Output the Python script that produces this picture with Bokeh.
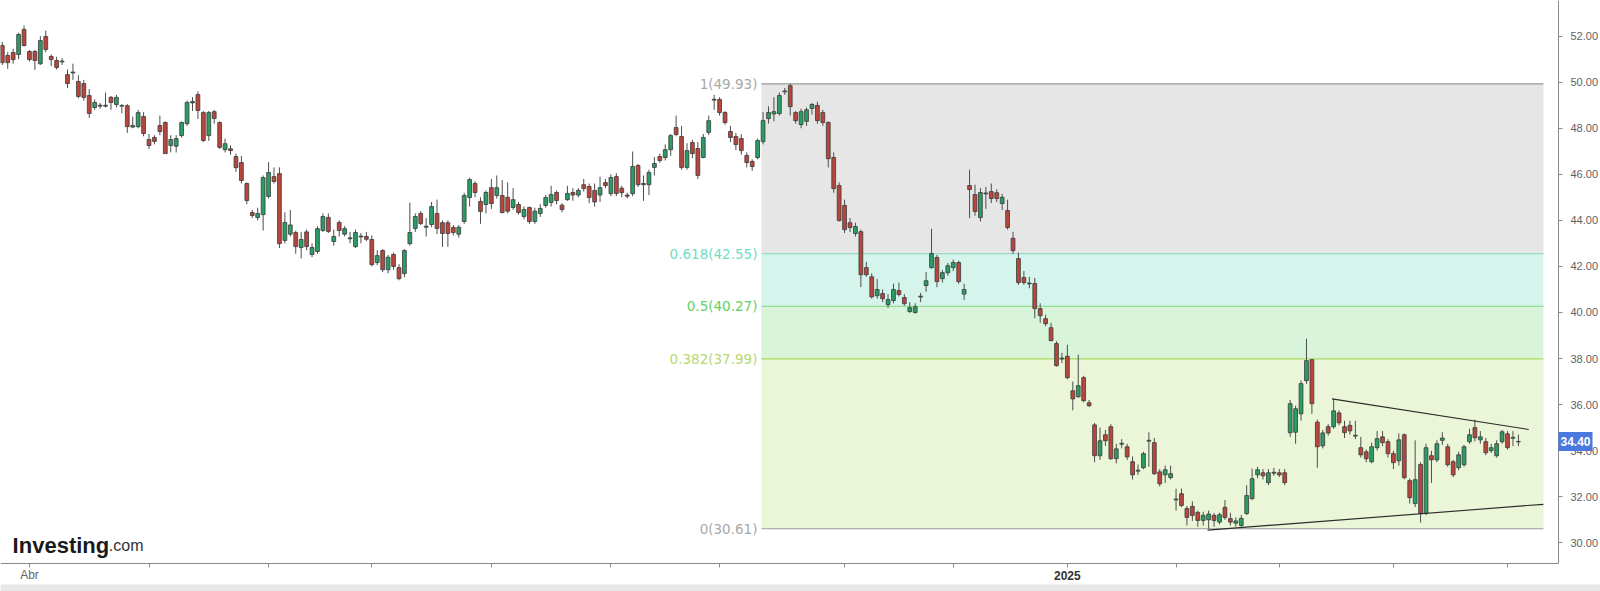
from bokeh.plotting import figure
from bokeh.models import Range1d, FixedTicker, Label, ColumnDataSource
from bokeh.embed import file_html
from bokeh.resources import INLINE
from bokeh.core.properties import value

# ---------------- data (daily candles, index 0 = 22 Mar 2024) ----------------
opens = [
    51.59, 51.16, 51.29, 51.20, 52.29, 51.33, 51.33, 50.80, 51.98, 51.12,
    50.94, 50.88, 50.33, 50.40, 50.03, 49.94, 49.42, 48.90, 49.00, 48.96,
    49.34, 49.03, 48.96, 48.98, 48.05, 48.07, 48.51, 47.51, 47.60, 48.12,
    48.25, 47.25, 47.22, 47.68, 48.20, 49.10, 49.46, 48.68, 47.68, 48.72,
    48.25, 47.07, 47.11, 46.77, 46.51, 45.60, 44.34, 44.12, 44.25, 45.04,
    45.90, 46.03, 43.13, 43.40, 43.47, 42.82, 43.50, 42.52, 42.65, 43.56,
    44.13, 43.08, 43.91, 43.40, 43.20, 42.86, 43.28, 43.30, 43.17, 42.17,
    42.69, 41.86, 42.52, 41.95, 41.69, 42.99, 43.65, 44.30, 43.70, 43.82,
    44.30, 43.90, 43.90, 43.69, 43.40, 43.95, 44.99, 45.60, 44.82, 44.69,
    45.42, 45.08, 45.08, 45.00, 44.56, 44.69, 44.17, 44.56, 43.95, 44.30,
    44.65, 44.78, 45.21, 44.66, 44.90, 45.21, 45.10, 45.55, 45.47, 45.30,
    45.10, 45.64, 45.16, 45.90, 45.40, 45.10, 45.16, 46.38, 45.60, 45.55,
    46.30, 46.77, 46.73, 47.07, 48.03, 47.64, 46.30, 47.38, 47.12, 46.73,
    47.82, 49.26, 49.25, 48.68, 47.86, 47.64, 47.55, 46.82, 46.56, 46.73,
    47.42, 48.42, 48.62, 48.64, 49.58, 49.85, 48.68, 48.16, 48.30, 48.86,
    48.99, 48.68, 48.25, 46.73, 45.51, 44.65, 43.90, 43.43, 43.51, 41.95,
    41.55, 40.73, 40.82, 40.34, 40.52, 40.95, 40.65, 40.04, 40.00, 40.67,
    41.17, 41.95, 42.39, 41.47, 41.73, 41.95, 42.17, 40.80, 45.51, 45.12,
    44.12, 45.15, 45.25, 45.20, 44.73, 44.43, 43.22, 42.34, 41.52, 41.24,
    41.26, 40.17, 39.73, 39.34, 38.65, 37.98, 38.10, 36.60, 36.34, 37.17,
    36.08, 35.12, 33.78, 34.69, 35.04, 33.65, 34.28, 34.17, 33.52, 33.11,
    33.26, 34.41, 34.35, 33.08, 32.95, 32.83, 31.86, 32.13, 31.49, 31.58,
    31.32, 30.97, 31.00, 31.19, 30.90, 31.54, 31.05, 30.85, 30.75, 31.27,
    31.92, 32.95, 33.04, 32.61, 33.02, 33.04, 33.04, 34.78, 34.80, 35.60,
    37.04, 37.95, 35.24, 34.21, 35.04, 35.04, 35.64, 35.04, 35.10, 34.63,
    34.13, 33.95, 33.52, 34.13, 34.60, 34.39, 33.87, 33.56, 34.69, 32.70,
    31.70, 33.40, 31.27, 33.78, 33.60, 34.45, 34.17, 33.52, 33.26, 33.39,
    34.39, 35.00, 34.47, 34.39, 34.00, 33.78, 34.39, 34.73, 34.54, 34.38,
]
closes = [
    50.85, 50.85, 50.98, 52.07, 51.59, 50.98, 50.94, 51.81, 51.42, 50.98,
    50.64, 50.92, 49.94, 50.44, 49.38, 49.34, 48.64, 49.12, 48.96, 49.00,
    49.12, 49.34, 48.99, 48.07, 48.12, 48.68, 47.77, 47.25, 47.43, 47.86,
    46.90, 47.51, 47.55, 48.25, 49.12, 49.16, 48.77, 47.47, 48.68, 48.42,
    47.17, 47.33, 47.03, 46.29, 45.73, 44.86, 44.21, 44.30, 45.86, 46.08,
    45.69, 42.99, 43.91, 43.80, 42.86, 43.17, 42.86, 42.82, 43.64, 44.17,
    43.52, 43.30, 43.56, 43.64, 43.24, 43.47, 43.32, 43.18, 42.08, 42.47,
    41.86, 42.40, 42.00, 41.47, 42.69, 43.47, 44.17, 43.86, 43.75, 44.60,
    43.65, 43.43, 43.43, 43.47, 43.70, 45.08, 45.77, 45.21, 44.39, 45.21,
    44.73, 45.42, 44.34, 44.40, 44.90, 44.34, 44.47, 43.95, 44.40, 44.52,
    44.99, 45.12, 44.86, 44.47, 45.17, 45.10, 45.30, 45.38, 44.99, 44.80,
    45.42, 45.51, 45.86, 45.17, 45.20, 45.05, 46.34, 45.55, 45.55, 46.08,
    46.47, 46.60, 47.07, 47.68, 47.73, 46.30, 47.03, 46.90, 45.95, 47.60,
    48.33, 49.22, 48.68, 48.25, 47.60, 47.29, 47.03, 46.51, 46.34, 47.47,
    48.33, 48.68, 48.72, 49.42, 49.62, 48.94, 48.33, 48.72, 48.80, 49.03,
    48.33, 48.25, 46.68, 45.38, 43.99, 43.60, 43.69, 43.73, 41.64, 41.64,
    40.68, 41.00, 40.60, 40.56, 41.00, 40.78, 40.38, 40.21, 40.25, 40.71,
    41.38, 42.56, 41.34, 41.73, 42.03, 42.17, 41.34, 41.00, 45.34, 44.39,
    45.21, 45.19, 44.95, 44.95, 45.00, 43.69, 42.69, 41.30, 41.30, 41.28,
    40.17, 39.86, 39.51, 38.78, 37.69, 38.02, 37.17, 36.25, 36.82, 36.17,
    35.95, 33.78, 34.43, 34.43, 33.65, 34.08, 34.32, 33.73, 32.95, 33.15,
    33.87, 34.45, 33.00, 32.56, 33.17, 33.00, 31.90, 31.62, 31.10, 31.19,
    30.97, 31.19, 31.25, 30.97, 31.22, 31.10, 30.90, 30.95, 31.06, 32.05,
    32.78, 33.17, 32.91, 33.04, 33.06, 32.95, 32.61, 36.04, 35.82, 36.91,
    37.91, 36.04, 34.17, 34.77, 34.77, 35.73, 35.21, 34.78, 34.86, 34.67,
    33.82, 33.65, 34.17, 34.52, 34.35, 33.87, 33.48, 34.47, 32.83, 31.96,
    32.74, 31.27, 34.13, 33.60, 34.30, 34.55, 33.39, 32.95, 33.82, 34.17,
    34.69, 34.56, 34.60, 33.91, 34.13, 34.30, 34.82, 34.13, 34.58, 34.40,
]
highs = [
    51.75, 51.30, 51.45, 52.15, 52.46, 51.40, 51.40, 52.00, 52.24, 51.20,
    51.10, 51.05, 50.55, 50.80, 50.30, 50.10, 49.70, 49.25, 49.10, 49.55,
    49.40, 49.45, 49.05, 49.05, 48.50, 48.80, 48.70, 47.75, 47.70, 48.55,
    48.30, 47.70, 47.70, 48.30, 49.20, 49.35, 49.60, 48.75, 48.75, 48.80,
    48.30, 47.55, 47.25, 46.90, 46.80, 45.65, 44.45, 44.55, 45.95, 46.53,
    46.30, 46.30, 44.35, 44.45, 43.55, 43.50, 43.60, 43.00, 43.75, 44.30,
    44.30, 43.60, 44.00, 43.75, 43.50, 43.60, 43.45, 43.50, 43.35, 42.70,
    42.75, 42.50, 42.60, 42.10, 42.75, 44.77, 44.30, 44.40, 44.10, 44.80,
    44.90, 44.00, 44.00, 43.80, 43.80, 45.20, 45.85, 45.70, 45.00, 45.30,
    45.80, 45.95, 45.75, 45.65, 45.40, 44.80, 44.60, 44.60, 44.55, 44.70,
    45.10, 45.50, 45.30, 44.75, 45.50, 45.40, 45.40, 45.80, 45.60, 45.60,
    45.90, 45.80, 46.00, 46.05, 45.50, 45.20, 46.99, 46.45, 45.95, 46.20,
    46.75, 46.90, 47.30, 47.75, 48.55, 48.10, 47.35, 47.50, 47.40, 47.75,
    48.55, 49.45, 49.35, 48.75, 48.10, 47.80, 47.75, 46.95, 46.65, 47.55,
    48.70, 48.95, 49.35, 49.55, 49.75, 49.93, 48.75, 48.85, 48.90, 49.10,
    49.15, 48.80, 48.30, 46.95, 45.65, 44.90, 44.10, 43.90, 43.60, 42.20,
    41.70, 41.45, 41.00, 40.80, 41.25, 41.30, 40.80, 40.45, 40.40, 40.85,
    41.75, 43.64, 42.50, 41.85, 42.15, 42.30, 42.25, 41.25, 46.20, 45.55,
    45.40, 45.45, 45.60, 45.35, 45.15, 44.90, 43.50, 42.60, 41.80, 41.55,
    41.50, 40.40, 39.90, 39.55, 38.75, 38.25, 38.60, 37.00, 38.17, 37.25,
    36.20, 35.20, 35.00, 34.90, 35.15, 34.30, 34.50, 34.30, 33.75, 33.40,
    33.95, 34.80, 34.55, 33.20, 33.35, 33.35, 32.35, 32.35, 31.60, 31.80,
    31.40, 31.35, 31.40, 31.30, 31.30, 31.85, 31.30, 31.10, 31.20, 32.50,
    33.22, 33.30, 33.20, 33.20, 33.25, 33.20, 33.20, 36.20, 35.95, 37.05,
    38.86, 37.95, 35.35, 34.90, 35.15, 36.25, 35.75, 35.30, 35.30, 35.30,
    34.60, 34.05, 34.35, 34.85, 34.85, 34.50, 34.00, 34.75, 34.75, 32.80,
    34.45, 33.50, 34.30, 34.00, 34.45, 34.80, 34.30, 33.60, 33.95, 34.25,
    34.95, 35.35, 34.85, 34.55, 34.30, 34.45, 34.90, 34.85, 34.85, 34.70,
]
lows = [
    50.75, 50.58, 50.80, 51.00, 51.55, 50.90, 50.53, 50.75, 51.30, 50.70,
    50.55, 50.75, 49.75, 50.10, 49.30, 49.20, 48.45, 48.80, 48.85, 48.90,
    48.80, 48.90, 48.65, 47.80, 48.00, 48.00, 47.65, 47.10, 47.30, 47.70,
    46.90, 46.95, 46.95, 47.60, 48.10, 48.75, 48.40, 47.40, 47.45, 48.20,
    47.10, 46.95, 46.85, 46.10, 45.60, 44.70, 44.10, 44.00, 43.56, 44.95,
    45.60, 42.80, 43.00, 43.30, 42.55, 42.35, 42.70, 42.40, 42.55, 43.50,
    43.45, 42.90, 43.30, 43.30, 43.00, 42.80, 43.00, 43.10, 42.00, 42.05,
    41.75, 41.70, 41.85, 41.40, 41.52, 42.90, 43.50, 43.80, 43.30, 43.70,
    43.40, 42.85, 42.85, 43.35, 43.25, 43.85, 44.60, 45.00, 43.85, 44.30,
    44.50, 44.95, 44.30, 44.30, 44.45, 44.25, 44.05, 43.85, 43.85, 44.15,
    44.55, 44.60, 44.70, 44.35, 44.85, 44.85, 45.00, 45.25, 44.75, 44.60,
    44.80, 45.40, 45.05, 45.05, 45.00, 44.95, 45.05, 45.45, 44.85, 45.10,
    45.95, 46.50, 46.60, 46.80, 47.65, 46.20, 46.20, 46.70, 45.80, 46.70,
    47.70, 48.80, 48.55, 48.15, 47.40, 47.05, 46.85, 46.30, 46.15, 46.65,
    47.30, 48.20, 48.30, 48.55, 49.45, 48.55, 48.20, 48.00, 48.10, 48.60,
    48.20, 48.10, 46.30, 45.20, 43.95, 43.45, 43.50, 43.30, 41.10, 41.55,
    40.60, 40.60, 40.45, 40.20, 40.40, 40.70, 40.30, 39.98, 39.95, 40.45,
    40.90, 41.90, 41.10, 41.30, 41.60, 41.80, 41.25, 40.55, 44.10, 44.20,
    43.95, 44.50, 44.75, 44.80, 44.45, 43.60, 42.55, 41.20, 41.20, 41.05,
    39.75, 39.55, 39.40, 38.75, 37.65, 37.80, 37.10, 35.75, 36.30, 36.10,
    35.90, 33.50, 33.60, 34.20, 33.60, 33.45, 34.10, 33.60, 32.75, 32.95,
    33.20, 33.30, 32.95, 32.45, 32.60, 32.75, 31.40, 31.55, 30.75, 30.95,
    30.70, 30.75, 30.61, 30.70, 30.80, 31.00, 30.75, 30.70, 30.70, 31.20,
    31.85, 32.80, 32.75, 32.50, 32.90, 32.85, 32.50, 34.60, 34.30, 35.30,
    36.90, 35.60, 33.26, 34.10, 34.65, 34.95, 35.10, 34.55, 34.70, 34.50,
    33.70, 33.50, 33.45, 34.00, 34.20, 33.70, 33.20, 33.35, 32.75, 31.70,
    31.55, 30.88, 31.20, 32.60, 33.50, 34.25, 33.30, 32.85, 33.15, 33.30,
    34.30, 34.40, 34.30, 33.80, 33.90, 33.70, 34.30, 34.05, 34.20, 34.20,
]

# month starts (trading-day index) and their labels
month_ticks = [5, 27, 49, 68, 90, 112, 132, 155, 175, 196, 216, 235, 256, 277]
month_labels = ["Abr", "", "", "", "", "", "", "", "", "2025", "", "", "", ""]

price_ticks = [30, 32, 34, 36, 38, 40, 42, 44, 46, 48, 50, 52]
price_labels = ["30.00", "32.00", "34.00", "36.00", "38.00", "40.00",
                "42.00", "44.00", "46.00", "48.00", "50.00", "52.00"]

# Fibonacci retracement
fib_levels = [30.61, 37.99, 40.27, 42.55, 49.93]
fib_texts = ["0(30.61)", "0.382(37.99)", "0.5(40.27)", "0.618(42.55)", "1(49.93)"]
fib_start = 139.7
fib_end = 283.6

# triangle trend lines
upper_x = [244.7, 280.9]
upper_y = [36.25, 34.92]
lower_x = [221.8, 283.6]
lower_y = [30.55, 31.67]

last_price = 34.40
last_label = "34.40"

# ---------------- layout constants ----------------
XL, XA, XR = -0.331, 286.38, 294.11   # canvas left, price-axis position, canvas right
YB, YA, YT = 27.885, 29.10, 53.547    # canvas bottom, time-axis position, canvas top
Y_STRIP = 28.19                       # top of the grey navigator strip

GREEN = "#2a9d64"
RED = "#b9463c"
zone_colors = ["#ebf6d9", "#d9f5d9", "#d5f5ec", "#e6e6e6"]
line_colors = ["#9a9a9a", "#a9d85e", "#7ed67f", "#7fd7c1", "#9a9a9a"]
text_colors = ["#a8a8a8", "#b9d873", "#66cf66", "#73dcc3", "#a8a8a8"]

p = figure(width=1600, height=591, output_backend="svg", toolbar_location=None,
           x_range=Range1d(XL, XR), y_range=Range1d(YB, YT),
           y_axis_location="right", min_border=0,
           min_border_left=0, min_border_top=0, min_border_right=0, min_border_bottom=0)
p.outline_line_color = None
p.xgrid.visible = False
p.ygrid.visible = False
p.background_fill_color = "white"
p.border_fill_color = "white"

# grey navigator strip at the bottom
p.quad(left=XL, right=XR, bottom=YB, top=Y_STRIP, fill_color="#e8e8e8", line_color=None)

# fib zones
zsrc = ColumnDataSource(dict(bottom=fib_levels[:-1], top=fib_levels[1:], color=zone_colors))
p.quad(left=fib_start, right=fib_end, bottom="bottom", top="top", fill_color="color",
       line_color=None, source=zsrc)
lsrc = ColumnDataSource(dict(y=fib_levels, color=line_colors, txt=fib_texts, tcolor=text_colors))
p.segment(x0=fib_start, x1=fib_end, y0="y", y1="y", line_color="color", line_width=1.2, source=lsrc)
p.text(x=fib_start, y="y", text="txt", text_color="tcolor", text_align="right",
       text_baseline="middle", x_offset=-4, text_font=value("DejaVu Sans"),
       text_font_size="13.5px", source=lsrc)

# candles
idx = list(range(len(opens)))
colors = [GREEN if c >= o else RED for o, c in zip(opens, closes)]
top = [max(o, c) for o, c in zip(opens, closes)]
bot = [min(o, c) for o, c in zip(opens, closes)]
csrc = ColumnDataSource(dict(x=idx, h=highs, l=lows, top=top, bot=bot, color=colors))
p.segment(x0="x", x1="x", y0="h", y1="l", line_color="#4d4d4d", line_width=1, source=csrc)
p.vbar(x="x", width=0.7, top="top", bottom="bot", fill_color="color",
       line_color="#3a3a3a", line_width=0.8, source=csrc)

# triangle
p.line(upper_x, upper_y, line_color="#2b2b2b", line_width=1.1)
p.line(lower_x, lower_y, line_color="#2b2b2b", line_width=1.1)

# price axis (right side, drawn at a fixed position)
ya = p.yaxis[0]
ya.fixed_location = XA
ya.bounds = (YA, YT)
ya.ticker = FixedTicker(ticks=price_ticks)
ya.major_label_overrides = {t: s for t, s in zip(price_ticks, price_labels)}
ya.axis_line_color = "#8a8a8a"
ya.major_tick_line_color = "#8a8a8a"
ya.major_tick_out = 4
ya.major_tick_in = 0
ya.minor_tick_line_color = None
ya.major_label_standoff = 8
ya.major_label_text_font = "Liberation Sans"
ya.major_label_text_font_size = "11px"
ya.major_label_text_color = "#5f5f5f"

# time axis
xa = p.xaxis[0]
xa.fixed_location = YA
xa.bounds = (XL, XA)
xa.ticker = FixedTicker(ticks=month_ticks)
xa.major_label_overrides = {t: "" for t in month_ticks}
xa.axis_line_color = "#8a8a8a"
xa.major_tick_line_color = "#8a8a8a"
xa.major_tick_out = 4
xa.major_tick_in = 0
xa.minor_tick_line_color = None

for t, s in zip(month_ticks, month_labels):
    if s:
        bold = s.isdigit()
        p.add_layout(Label(x=t, y=YA - 0.52, text=s, text_align="center", text_baseline="middle",
                           text_font="Liberation Sans", text_font_size="12px",
                           text_font_style="bold" if bold else "normal",
                           text_color="#333333" if bold else "#666666"))

# current price tag
p.add_layout(Label(x=XA, y=last_price, text=last_label, text_align="left", text_baseline="middle",
                   x_offset=0, text_font="Liberation Sans", text_font_size="12px",
                   text_font_style="bold", text_color="white",
                   background_fill_color="#4a78df", padding=(2, 5)))

# logo
p.add_layout(Label(x=1.9, y=29.88, text="Investing", text_align="left", text_baseline="alphabetic",
                   text_font="Liberation Sans", text_font_size="22px", text_font_style="bold",
                   text_color="#1a1a1a"))
p.add_layout(Label(x=19.6, y=29.88, text=".com", text_align="left", text_baseline="alphabetic",
                   text_font="Liberation Sans", text_font_size="16px", text_color="#333333"))

open("out.html", "w").write(file_html(p, INLINE))
